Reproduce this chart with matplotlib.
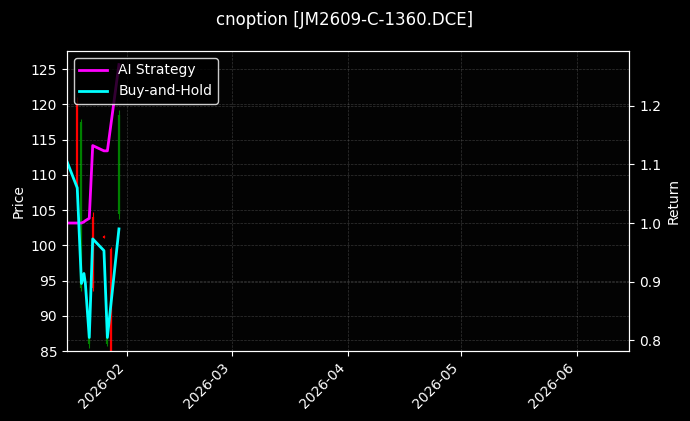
import matplotlib
matplotlib.use('Agg')
import matplotlib.pyplot as plt
import matplotlib.dates as mdates
import numpy as np
import pandas as pd

plt.style.use('dark_background')

title = 'cnoption [JM2609-C-1360.DCE]'

# strategy / benchmark curves (return, right axis)
line_dates = ['2026-01-16 00:00', '2026-01-18 18:00', '2026-01-19 21:00', '2026-01-20 13:00',
              '2026-01-20 22:00', '2026-01-21 23:00', '2026-01-22 21:00', '2026-01-25 21:00',
              '2026-01-26 19:00', '2026-01-29 21:00']
ai_ret = [1.000, 1.000, 1.000, 1.002, 1.004, 1.008, 1.132, 1.123, 1.123, 1.270]
bh_ret = [1.105, 1.060, 0.897, 0.914, 0.897, 0.805, 0.973, 0.953, 0.805, 0.990]

# candles (price, left axis)
k_dates = ['2026-01-18 16:00', '2026-01-19 21:00', '2026-01-21 23:00', '2026-01-22 21:00',
           '2026-01-25 21:00', '2026-01-26 19:00', '2026-01-27 20:00', '2026-01-29 21:00']
k_open = [108.0, 117.5, 89.0, 94.0, 101.0, 89.5, 84.5, 118.5]
k_close = [120.0, 94.0, 86.0, 104.0, 101.3, 86.0, 99.5, 104.5]
k_high = [121.0, 118.0, 89.5, 104.7, 101.5, 89.7, 99.8, 119.2]
k_low = [107.5, 93.5, 85.5, 93.5, 101.0, 85.7, 84.0, 103.7]

x_start = '2026-01-16'
x_end = '2026-06-15'

ld = pd.to_datetime(line_dates)
kd = pd.to_datetime(k_dates)

fig = plt.figure(figsize=(6.9, 4.21), dpi=100)
fig.patch.set_facecolor('black')
ax = fig.add_subplot(1, 1, 1)
ax.set_facecolor('#030303')
fig.subplots_adjust(left=0.097, right=0.912, top=0.879, bottom=0.166)

for d, o, c, h, l in zip(kd, k_open, k_close, k_high, k_low):
    col = 'red' if c >= o else 'green'
    ax.vlines(d, l, h, color=col, linewidth=0.8)
    ax.vlines(d, min(o, c), max(o, c), color=col, linewidth=1.6)

ax.set_ylim(85, 127.6)
ax.set_ylabel('Price')
ax.grid(True, linestyle='--', color='gray', alpha=0.4, linewidth=0.5)

ax2 = ax.twinx()
ax2.plot(ld, ai_ret, color='magenta', linewidth=2, label='AI Strategy')
ax2.plot(ld, bh_ret, color='cyan', linewidth=2, label='Buy-and-Hold')
ax2.set_ylabel('Return')
ax2.grid(True, linestyle='--', color='gray', alpha=0.4, linewidth=0.5)
ax2.legend(loc='upper left', facecolor='black', edgecolor='white', framealpha=0.8)

ax.set_xlim(pd.Timestamp(x_start), pd.Timestamp(x_end))
ax.xaxis.set_major_locator(mdates.MonthLocator())
ax.xaxis.set_major_formatter(mdates.DateFormatter('%Y-%m'))
plt.setp(ax.get_xticklabels(), rotation=45, ha='right')

fig.suptitle(title, fontsize=12, y=0.975)

plt.savefig('out.png', dpi=100, facecolor='black')
